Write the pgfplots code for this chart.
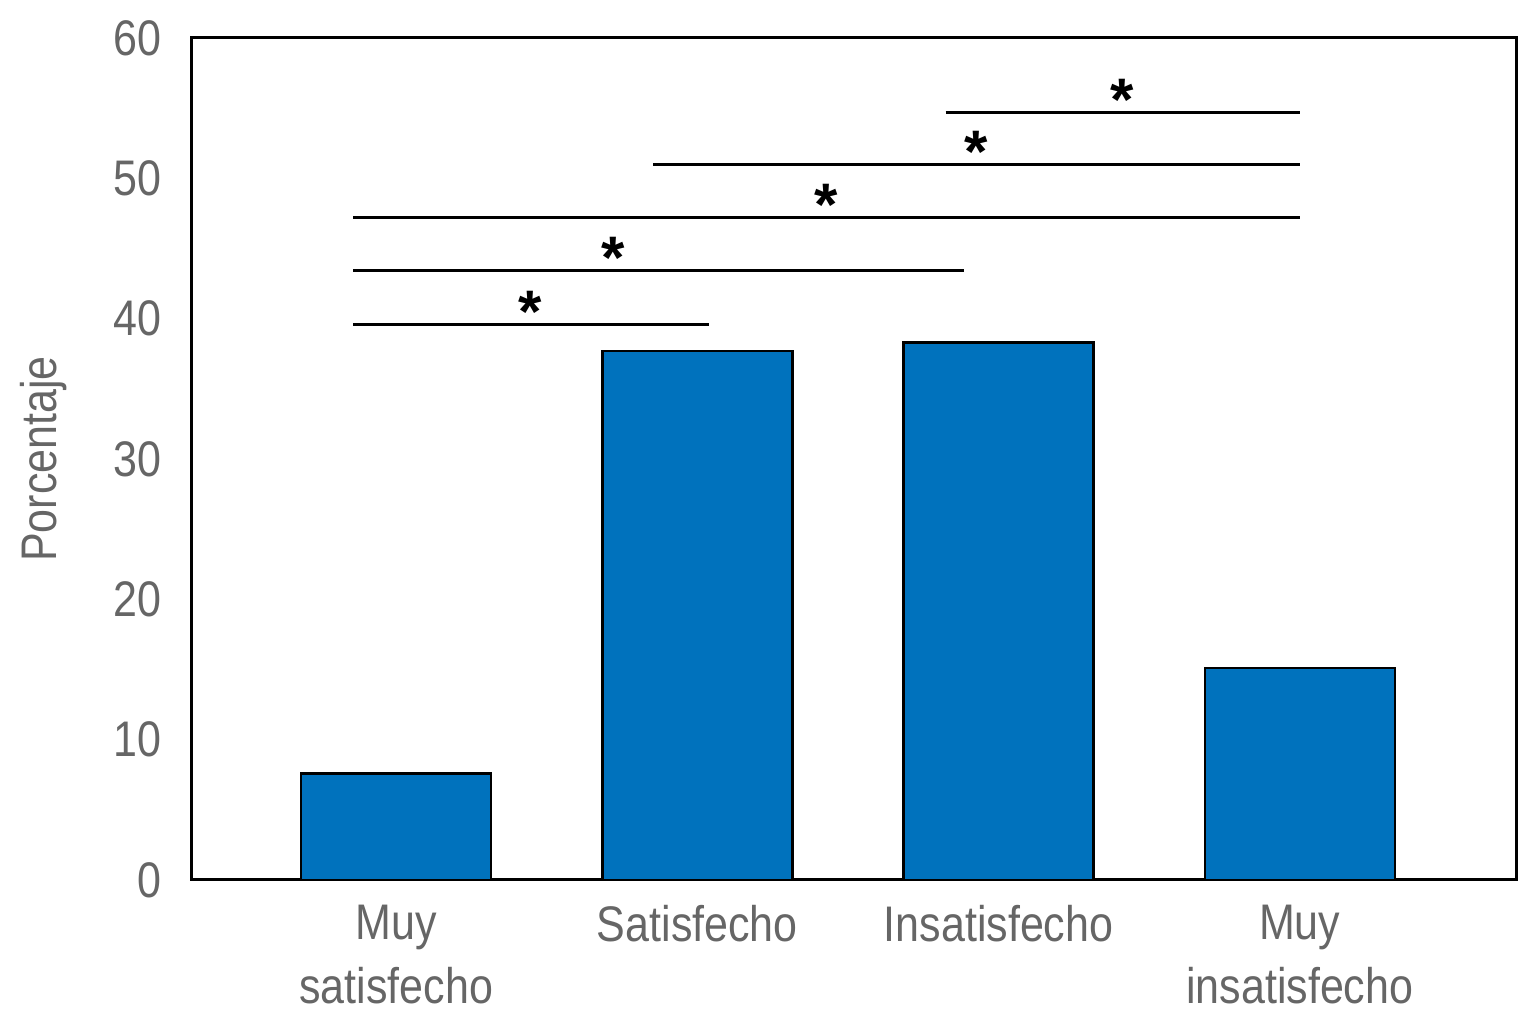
\documentclass[border=0pt]{standalone}
\usepackage{fontspec}
\setmainfont{Liberation Sans}[FakeStretch=0.86]
\newfontfamily\starfont{Liberation Sans}
\usepackage{pgfplots}
\pgfplotsset{compat=1.18}
\definecolor{barblue}{RGB}{0,114,189}
\definecolor{labelgray}{RGB}{102,102,102}
\begin{document}
\begin{tikzpicture}
\begin{axis}[
    scale only axis,
    width=662pt, height=421pt,
    xmin=-0.678, xmax=3.718,
    ymin=0, ymax=60,
    ytick={0,10,...,60},
    xtick={0,1,2,3},
    xticklabels={Muy\\satisfecho, Satisfecho, Insatisfecho, Muy\\insatisfecho},
    major tick length=0pt,
    axis line style={line width=1.5pt},
    /pgf/number format/assume math mode=true,
    ticklabel style={font=\fontsize{25}{32}\selectfont, text=labelgray},
    yticklabel style={anchor=east, inner sep=0pt, xshift=-15pt},
    xticklabel style={anchor=north, inner sep=0pt, yshift=-12.5pt, align=center},
    ylabel={Porcentaje},
    ylabel style={font=\fontsize{25}{29}\selectfont, text=labelgray,
        at={([xshift=-59pt]axis description cs:0,0.5)}, anchor=south, rotate=0},
    clip=false,
]
\addplot[ybar, bar width=95pt, fill=barblue, draw=black, line width=1.2pt]
    coordinates {(0,7.6) (1,37.7) (2,38.3) (3,15.1)};

% significance brackets
\addplot[black, line width=1.5pt] coordinates {(-0.143,39.6) (1.037,39.6)};
\addplot[black, line width=1.5pt] coordinates {(-0.143,43.4) (1.884,43.4)};
\addplot[black, line width=1.5pt] coordinates {(-0.143,47.2) (3,47.2)};
\addplot[black, line width=1.5pt] coordinates {(0.854,51.0) (3,51.0)};
\addplot[black, line width=1.5pt] coordinates {(1.824,54.7) (3,54.7)};

\node[anchor=north, inner sep=0pt, font=\starfont\bfseries\fontsize{30}{30}\selectfont] at (axis cs:0.445,42.0) {*};
\node[anchor=north, inner sep=0pt, font=\starfont\bfseries\fontsize{30}{30}\selectfont] at (axis cs:0.721,45.8) {*};
\node[anchor=north, inner sep=0pt, font=\starfont\bfseries\fontsize{30}{30}\selectfont] at (axis cs:1.429,49.6) {*};
\node[anchor=north, inner sep=0pt, font=\starfont\bfseries\fontsize{30}{30}\selectfont] at (axis cs:1.924,53.4) {*};
\node[anchor=north, inner sep=0pt, font=\starfont\bfseries\fontsize{30}{30}\selectfont] at (axis cs:2.412,57.1) {*};
\end{axis}
\path ([shift={(-96pt,-72pt)}]current axis.south west) rectangle ([shift={(1pt,19pt)}]current axis.north east);
\end{tikzpicture}
\end{document}
